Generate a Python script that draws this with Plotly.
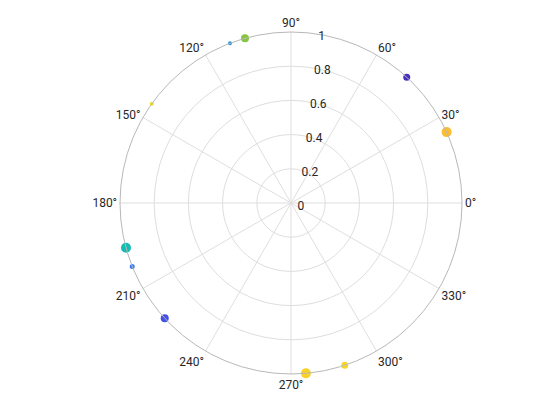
import plotly.graph_objects as go

theta_deg = [105.6, 110.9, 144.5, 47.4, 24.5, 195.2, 201.8, 222.4, 275.0, 288.3]
r_vals = [1, 1, 1, 1, 1, 1, 1, 1, 1, 1]
sizes = [8, 4, 4, 7, 10, 10, 5, 8, 10, 7]
colors = ["#86c540", "#2196e0", "#f5e01e", "#4630c0", "#fbbd36",
          "#14bcb2", "#3a7cf4", "#4450e8", "#f8d12b", "#f6d52e"]

angle_ticks = list(range(0, 360, 30))
radial_ticks = [0, 0.2, 0.4, 0.6, 0.8, 1]

fig = go.Figure()
fig.add_trace(go.Scatterpolar(
    r=r_vals, theta=theta_deg, mode="markers",
    marker=dict(size=sizes, color=colors, opacity=1, line=dict(width=0)),
    cliponaxis=False, showlegend=False,
))

fig.update_layout(
    width=560, height=420,
    margin=dict(l=73, r=67, t=24, b=54),
    paper_bgcolor="white",
    font=dict(family="Roboto, Arial, sans-serif", size=12, color="#262626"),
    polar=dict(
        bgcolor="white",
        radialaxis=dict(
            range=[0, 1], tickvals=radial_ticks,
            ticktext=["0", "0.2", "0.4", "0.6", "0.8", "1"],
            angle=83, tickangle=83, side="clockwise",
            showline=False, ticks="",
            gridcolor="#dedede", gridwidth=1,
            tickfont=dict(size=12, color="#262626"),
        ),
        angularaxis=dict(
            tickvals=angle_ticks, ticktext=[f"{a}°" for a in angle_ticks],
            direction="counterclockwise", rotation=0,
            showline=True, linecolor="#b8b8b8", linewidth=1,
            gridcolor="#dedede", gridwidth=1, ticks="",
            tickfont=dict(size=12, color="#262626"),
        ),
    ),
)

fig.write_html("out.html")
